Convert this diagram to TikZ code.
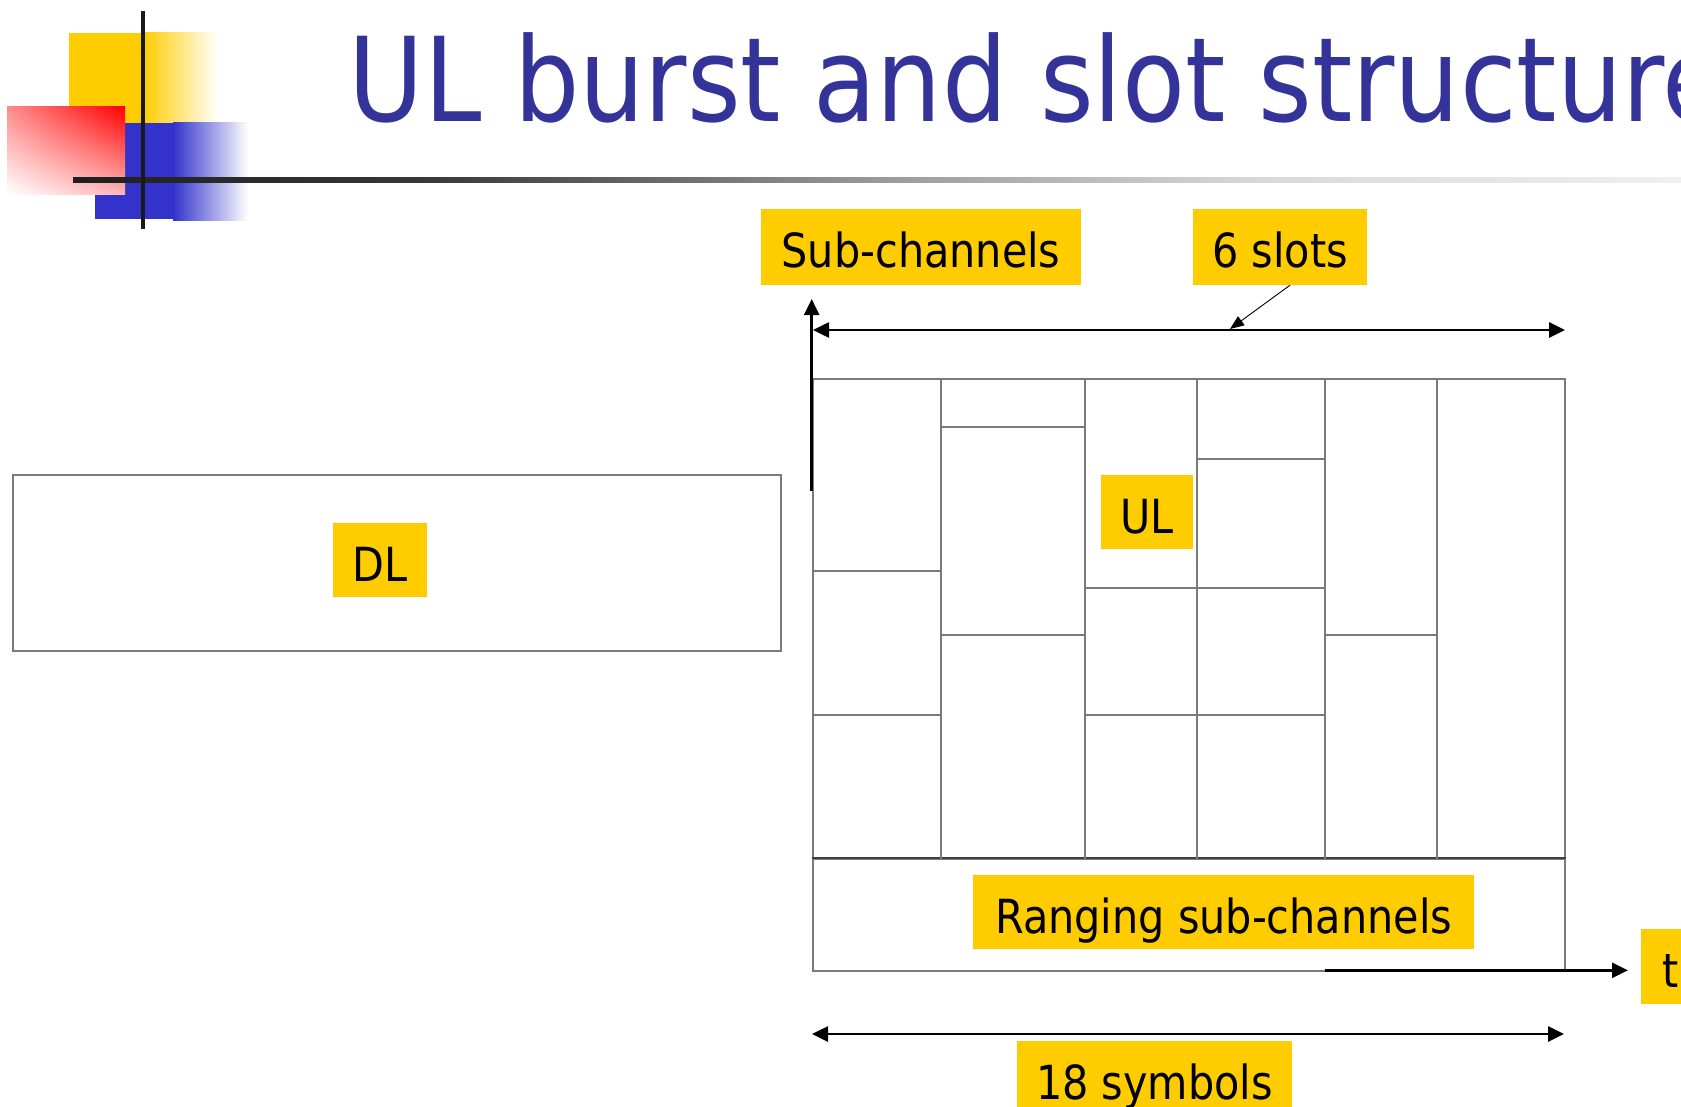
\documentclass[tikz,border=0pt]{standalone}
\usepackage{fontspec}
\newfontfamily\tah[FakeStretch=0.88]{DejaVu Sans}
\usetikzlibrary{arrows.meta,shadings}
\definecolor{ylw}{HTML}{FFCC00}
\definecolor{ttl}{HTML}{333399}
\definecolor{lblue}{HTML}{3333CC}
\definecolor{gridc}{HTML}{7A7A7A}
\pgfdeclarehorizontalshading{ruleshade}{100bp}{color(0bp)=(black!88); color(25bp)=(black!88); color(36bp)=(black!78); color(50bp)=(black!40); color(62bp)=(black!15); color(75bp)=(black!6); color(100bp)=(black!6)}
\begin{document}
\begin{tikzpicture}[x=1pt,y=-1pt,
  lbl/.style={fill=ylw, inner sep=0pt, text height=42pt, text depth=0pt,
    font=\tah\fontsize{47}{56}\selectfont, text=black},
  gline/.style={draw=gridc, line width=2pt},
  frame/.style={draw=gridc, line width=2pt, inner sep=0pt},
  arr/.style={line width=2.6pt, -{Triangle[length=16pt,width=15pt]}},
  darr/.style={line width=2.6pt, {Triangle[length=16pt,width=15pt]}-{Triangle[length=16pt,width=15pt]}},
  thinarr/.style={line width=0.9pt, -{Triangle[length=14pt,width=11pt]}}]
\useasboundingbox (0,0) rectangle (1681,1107);
\clip (0,0) rectangle (1681,1107);
\fill[white] (0,0) rectangle (1681,1107);

% logo
\fill[ylw] (69,33) rectangle (143,123);
\shade[left color=ylw, right color=white] (143,33) rectangle (218,123);
\fill[lblue] (95,123) rectangle (173,219);
\shade[left color=lblue, right color=white] (173,123) rectangle (248,221);
\shade[upper left=red!45, upper right=red, lower left=white, lower right=red!28] (7,107) rectangle (125,195);
\shade[shading=ruleshade] (73,177.5) rectangle (1681,182.5);
\fill[black!90] (141,11) rectangle (145,229);

% title
\node[anchor=base west, inner sep=0pt, text=ttl, font=\tah\fontsize{117}{140}\selectfont] (title) at (348.5,122) {UL burst and slot structure};

% DL frame
\node[frame, minimum width=768pt, minimum height=176pt] (dlbox) at (397,563) {};
\node[lbl, minimum width=94pt, minimum height=74pt] (dl) at (380,560) {DL};

% UL frame and ranging
\node[frame, minimum width=752.3pt, minimum height=480.3pt] (ulframe) at (1188.85,618.85) {};
\node[frame, minimum width=752.3pt, minimum height=111.7pt] (rng) at (1188.85,914.85) {};
\draw[draw=black!75, line width=2.2pt] (rng.north west) -- (rng.north east);

% columns
\foreach \cx in {941,1085,1197,1325,1437}
  \draw[gline] (\cx,378.7) -- (\cx,859);
% rows
\draw[gline] (812.7,571.4) -- (941,571.4);
\draw[gline] (812.7,715) -- (941,715);
\draw[gline] (941,426.7) -- (1085,426.7);
\draw[gline] (941,634.6) -- (1085,634.6);
\draw[gline] (1085,587.5) -- (1325,587.5);
\draw[gline] (1085,715) -- (1325,715);
\draw[gline] (1197,459) -- (1325,459);
\draw[gline] (1325,634.6) -- (1437,634.6);

\node[lbl, minimum width=92pt, minimum height=74pt] (ul) at (1147,512) {UL};
\node[lbl, minimum width=501pt, minimum height=74pt] (rnglbl) at (1223.7,912) {Ranging sub-channels};

% top labels
\node[lbl, minimum width=320pt, minimum height=76pt] (sub) at (921,247) {Sub-channels};
\node[lbl, minimum width=174pt, minimum height=76pt] (slots) at (1280,247) {6 slots};
\node[lbl, minimum width=59pt, minimum height=75pt] (tl) at (1670.5,966.5) {t};
\node[lbl, minimum width=275pt, minimum height=75pt] (sym) at (1154.5,1078.5) {18 symbols};

% arrows
\coordinate (vbot) at (811.7,490.7);
\coordinate (vtop) at (811.7,299);
\draw[arr] (vbot) -- (vtop);
\coordinate (hl) at (813,330);
\coordinate (hr) at (1565,330);
\draw[darr] (hl) -- (hr);
\coordinate (anntip) at (1230,329);
\draw[thinarr] ([xshift=10pt]slots.south) -- (anntip);
\coordinate (tstart) at (1325,970.3);
\coordinate (tend) at (1628,970.3);
\draw[arr] (tstart) -- (tend);
\coordinate (bl) at (812,1034);
\coordinate (br) at (1564,1034);
\draw[darr] (bl) -- (br);
\end{tikzpicture}
\end{document}
